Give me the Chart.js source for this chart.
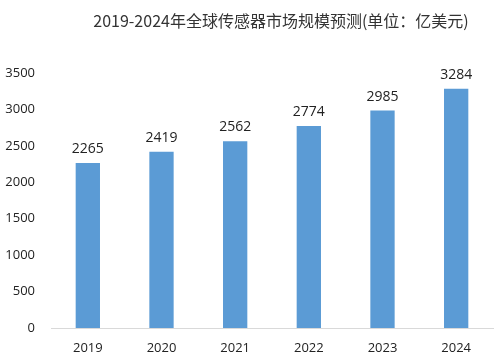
<!DOCTYPE html>
<html><head><meta charset="utf-8">
<script src="https://cdn.jsdelivr.net/npm/chart.js@4"></script>
<style>html,body{margin:0;padding:0;background:#fff}#wrap{width:496px;height:361px}</style>
</head><body><div id="wrap"><canvas id="c" width="496" height="361"></canvas></div>
<script>
const categories = ['2019','2020','2021','2022','2023','2024'];
const values = [2265, 2419, 2562, 2774, 2985, 3284];
const titleText = '2019-2024年全球传感器市场规模预测(单位：亿美元)';

const labelPlugin = {
  id: 'labels',
  afterDatasetsDraw(chart) {
    const ctx = chart.ctx;
    const meta = chart.getDatasetMeta(0);
    ctx.save();
    ctx.font = '14px "Open Sans", "DejaVu Sans", sans-serif';
    ctx.fillStyle = '#222';
    ctx.textAlign = 'center';
    ctx.textBaseline = 'middle';
    meta.data.forEach((bar, i) => {
      ctx.fillText(String(values[i]), bar.x, bar.y - 14);
    });
    ctx.restore();
  }
};
const titlePlugin = {
  id: 'ttl',
  afterDraw(chart) {
    const ctx = chart.ctx;
    ctx.save();
    ctx.font = '16px "Noto Sans CJK SC", sans-serif';
    ctx.fillStyle = '#333';
    ctx.textAlign = 'center';
    ctx.textBaseline = 'middle';
    ctx.fillText(titleText, 281, 21);
    ctx.restore();
  }
};

new Chart(document.getElementById('c'), {
  type: 'bar',
  data: { labels: categories, datasets: [{ data: values, backgroundColor: '#5b9bd5', categoryPercentage: 1, barPercentage: 0.33 }] },
  options: {
    responsive: false, animation: false,
    layout: { padding: { top: 73, right: 3, left: 0, bottom: 0 } },
    plugins: { legend: { display: false }, tooltip: { enabled: false } },
    scales: {
      x: {
        afterFit(s) { s.height = 33; },
        grid: { display: false, drawTicks: false },
        border: { color: '#d9d9d9' },
        ticks: { color: '#222', font: { size: 13, family: '"Open Sans", sans-serif' }, padding: 12 }
      },
      y: {
        min: 0, max: 3500,
        afterFit(s) { s.width = 51; },
        grid: { display: false, drawTicks: false },
        border: { display: false },
        ticks: { stepSize: 500, color: '#222', font: { size: 13, family: '"Open Sans", sans-serif' }, padding: 16,
          callback: v => String(v) }
      }
    }
  },
  plugins: [labelPlugin, titlePlugin]
});
</script></body></html>
